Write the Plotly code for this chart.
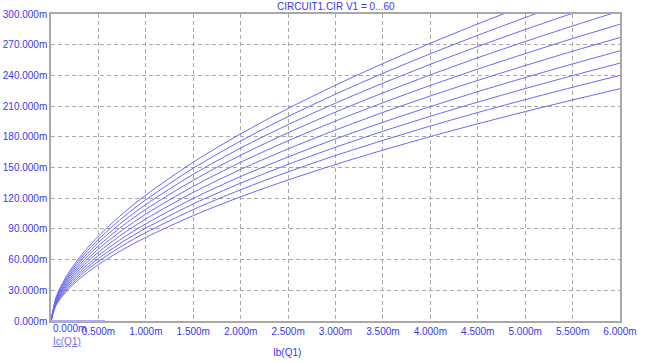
import plotly.graph_objects as go

# Base current Ib (mA)
ib = [0, 0.05, 0.1, 0.2, 0.35, 0.5, 0.75, 1.0, 1.5, 2.0, 2.5, 3.0, 3.5, 4.0, 4.5, 5.0, 5.5, 6.0]

# Collector current Ic (mA), one list per V1 step
ic_1 = [0, 22.3, 33.1, 49.2, 67.7, 83.0, 104.5, 123.1, 155.2, 182.9, 207.7, 230.4, 251.6, 271.4, 290.3, 308.2, 325.4, 342.0]
ic_2 = [0, 21.5, 31.9, 47.3, 65.1, 79.8, 100.6, 118.4, 149.3, 175.9, 199.8, 221.6, 242.0, 261.1, 279.2, 296.5, 313.1, 329.0]
ic_3 = [0, 20.6, 30.6, 45.5, 62.6, 76.7, 96.6, 113.8, 143.4, 169.0, 191.9, 212.9, 232.4, 250.8, 268.2, 284.8, 300.7, 316.0]
ic_4 = [0, 19.8, 29.4, 43.6, 60.0, 73.5, 92.6, 109.1, 137.5, 162.0, 184.0, 204.1, 222.9, 240.5, 257.2, 273.1, 288.3, 303.0]
ic_5 = [0, 18.9, 28.1, 41.7, 57.4, 70.4, 88.7, 104.4, 131.6, 155.1, 176.1, 195.4, 213.3, 230.2, 246.1, 261.3, 276.0, 290.0]
ic_6 = [0, 18.1, 26.8, 39.9, 54.8, 67.2, 84.7, 99.7, 125.7, 148.1, 168.2, 186.6, 203.8, 219.9, 235.1, 249.6, 263.6, 277.0]
ic_7 = [0, 17.2, 25.6, 38.0, 52.3, 64.0, 80.7, 95.0, 119.8, 141.2, 160.3, 177.9, 194.2, 209.5, 224.1, 237.9, 251.2, 264.0]
ic_8 = [0, 16.5, 24.4, 36.3, 49.9, 61.1, 77.0, 90.7, 114.4, 134.7, 153.0, 169.8, 185.4, 200.0, 213.9, 227.1, 239.8, 252.0]
ic_9 = [0, 15.7, 23.3, 34.5, 47.5, 58.2, 73.4, 86.4, 108.9, 128.3, 145.7, 161.7, 176.5, 190.5, 203.7, 216.3, 228.4, 240.0]
ic_10 = [0, 14.8, 22.0, 32.7, 44.9, 55.1, 69.4, 81.7, 103.0, 121.4, 137.8, 152.9, 167.0, 180.2, 192.7, 204.6, 216.0, 227.0]

curves = [ic_1, ic_2, ic_3, ic_4, ic_5, ic_6, ic_7, ic_8, ic_9, ic_10]

x_tickvals = [0, 0.5, 1.0, 1.5, 2.0, 2.5, 3.0, 3.5, 4.0, 4.5, 5.0, 5.5, 6.0]
x_ticktext = ["", "0.500m", "1.000m", "1.500m", "2.000m", "2.500m", "3.000m",
              "3.500m", "4.000m", "4.500m", "5.000m", "5.500m", "6.000m"]
y_tickvals = [0, 30, 60, 90, 120, 150, 180, 210, 240, 270, 300]
y_ticktext = ["0.000m", "30.000m", "60.000m", "90.000m", "120.000m", "150.000m",
              "180.000m", "210.000m", "240.000m", "270.000m", "300.000m"]

title_text = "CIRCUIT1.CIR V1 = 0...60"
x_label = "Ib(Q1)"
y_label = "Ic(Q1)"

LINE = "rgb(105,105,245)"
TXT = "rgb(55,55,245)"
GRID = "#a8a8a8"
FONT = "Liberation Sans, Arial, sans-serif"

fig = go.Figure()
for c in curves:
    fig.add_trace(go.Scatter(x=ib, y=c, mode="lines",
                             line=dict(color=LINE, width=1, shape="spline", smoothing=0.8),
                             showlegend=False, hoverinfo="skip"))

axis_common = dict(showline=True, linecolor=GRID, linewidth=1.5, mirror=True,
                   showgrid=True, gridcolor=GRID, griddash="4px,3px", gridwidth=1,
                   zeroline=False, ticks="", automargin=False,
                   tickfont=dict(family=FONT, size=10, color=TXT),
                   fixedrange=True)

fig.update_xaxes(range=[0, 6], tickmode="array", tickvals=x_tickvals, ticktext=x_ticktext,
                 **axis_common)
fig.update_yaxes(range=[0, 300], tickmode="array", tickvals=y_tickvals, ticktext=y_ticktext,
                 **axis_common)

fig.add_annotation(text=title_text, xref="paper", yref="paper", x=0.5, y=1.023,
                   xanchor="center", yanchor="middle", showarrow=False,
                   font=dict(family=FONT, size=10, color=TXT))
fig.add_annotation(text="0.000m", xref="paper", yref="paper", x=0, y=-0.026,
                   xanchor="left", yanchor="middle", showarrow=False,
                   font=dict(family=FONT, size=10, color=TXT))
fig.add_annotation(text="<u>" + y_label + "</u>", xref="paper", yref="paper", x=0, y=-0.066,
                   xanchor="left", yanchor="middle", showarrow=False,
                   font=dict(family=FONT, size=10, color="rgb(110,110,235)"))
fig.add_annotation(text=x_label, xref="paper", yref="paper", x=0.415, y=-0.104,
                   xanchor="center", yanchor="middle", showarrow=False,
                   font=dict(family=FONT, size=10, color=TXT))
fig.add_shape(type="line", xref="paper", yref="paper", x0=0, x1=0.095, y0=0, y1=0,
              line=dict(color="rgb(170,170,255)", width=2))

fig.update_layout(width=646, height=363, margin=dict(l=51, r=26, t=14, b=42, autoexpand=False),
                  paper_bgcolor="white", plot_bgcolor="white",
                  font=dict(family=FONT, size=10, color=TXT))

fig.write_html("out.html", config={"displayModeBar": False},
               post_script="document.body.style.margin='0';document.body.style.padding='0';"
                           "document.documentElement.style.overflow='hidden';")
